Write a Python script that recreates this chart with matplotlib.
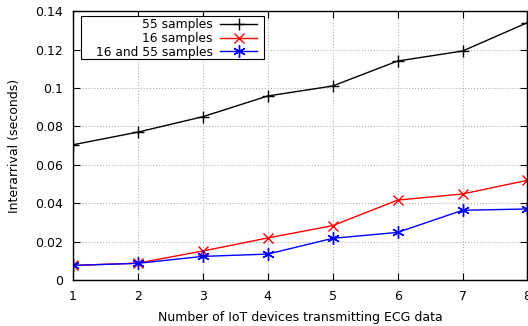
import matplotlib
matplotlib.use("Agg")
import matplotlib.pyplot as plt
from matplotlib.ticker import FuncFormatter
from matplotlib.patches import Rectangle

x = [1, 2, 3, 4, 5, 6, 7, 8]
s55 = [0.0704, 0.077, 0.085, 0.0958, 0.101, 0.114, 0.1192, 0.134]
s16 = [0.0076, 0.0088, 0.0151, 0.0219, 0.0283, 0.0416, 0.0448, 0.0519]
s16_55 = [0.0076, 0.0087, 0.0123, 0.0135, 0.0217, 0.0248, 0.0363, 0.037]
yticks = [0, 0.02, 0.04, 0.06, 0.08, 0.1, 0.12, 0.14]

plt.rcParams['font.family'] = 'DejaVu Sans'
fig = plt.figure(figsize=(5.28, 3.26), dpi=100)
ax = fig.add_axes([0.138, 0.141, 0.861, 0.825])

ax.plot(x, s55, color='black', marker='+', markersize=9, linewidth=1, label='55 samples')
ax.plot(x, s16, color='red', marker='x', markersize=7, linewidth=1, label='16 samples')
ax.plot(x, s16_55, color='blue', marker=(6, 2, 0), markersize=9, linewidth=1, label='16 and 55 samples')

ax.set_xlim(1, 8)
ax.set_ylim(0, 0.14)
ax.set_xticks(x)
ax.set_yticks(yticks)
ax.yaxis.set_major_formatter(FuncFormatter(lambda v, p: '%g' % round(v, 4)))
ax.tick_params(direction='in', top=True, right=True, labelsize=9, length=5, pad=7)
ax.grid(True, linestyle=':', color='#b0b0b0', linewidth=0.8)
for s in ax.spines.values():
    s.set_linewidth(1)
ax.set_xlabel('Number of IoT devices transmitting ECG data', fontsize=9, labelpad=6)
ax.set_ylabel('Interarrival (seconds)', fontsize=9, labelpad=10)

leg = ax.legend(loc='upper right', bbox_to_anchor=(0.405, 0.9725), markerfirst=False, fontsize=8.8,
                frameon=False, borderpad=0.0, labelspacing=0.05,
                handlelength=3.0, handletextpad=0.6, borderaxespad=0.0)
for t in leg.get_texts():
    t.set_ha('right')
leg._legend_box.align = 'right'

ax.add_patch(Rectangle((0.0176, 0.822), 0.4030, 0.159, transform=ax.transAxes,
                       fill=True, facecolor='white', edgecolor='black', linewidth=0.8, zorder=4.5))
leg.set_zorder(5)

fig.savefig('out.png', dpi=100)
